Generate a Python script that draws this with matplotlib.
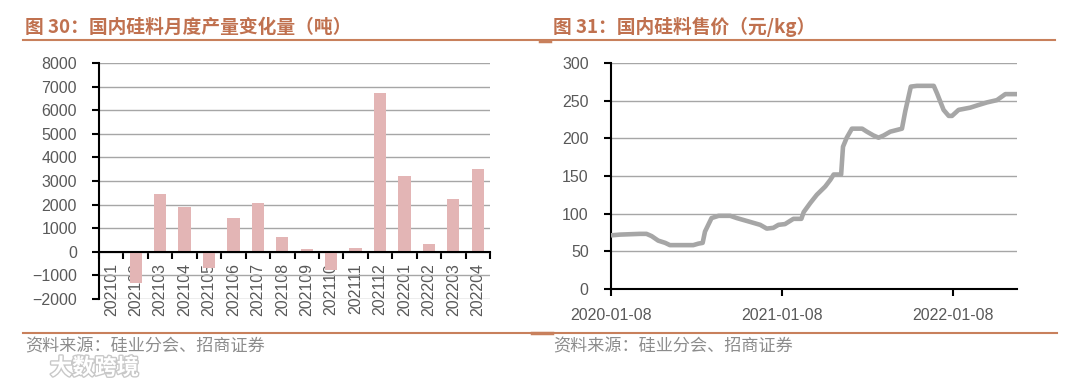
import matplotlib
matplotlib.use("Agg")
import matplotlib.pyplot as plt
import matplotlib.dates as mdates
import matplotlib.patheffects as pe
from matplotlib.lines import Line2D
import numpy as np
import pandas as pd

plt.rcParams['font.family'] = ['Liberation Sans', 'Noto Sans CJK SC', 'DejaVu Sans']

# ---- data: left chart (monthly change, tonnes) ----
months = ['202101', '202102', '202103', '202104', '202105', '202106', '202107', '202108',
          '202109', '202110', '202111', '202112', '202201', '202202', '202203', '202204']
change = [0, -1330, 2450, 1900, -700, 1420, 2050, 640,
          110, -750, 155, 6720, 3220, 310, 2230, 3520]
left_yticks = list(range(-2000, 8001, 1000))

# ---- data: right chart (price, yuan/kg) ----
price_dates = ['2020-01-08', '2020-01-27', '2020-03-10', '2020-03-24', '2020-04-04', '2020-04-18',
               '2020-05-03', '2020-05-13', '2020-07-02', '2020-07-13', '2020-07-22', '2020-07-27',
               '2020-08-10', '2020-08-25', '2020-09-19', '2020-10-03', '2020-10-31', '2020-11-22',
               '2020-12-06', '2020-12-20', '2020-12-31', '2021-01-14', '2021-02-01', '2021-02-18',
               '2021-02-23', '2021-03-09', '2021-03-23', '2021-04-10', '2021-04-21', '2021-04-28',
               '2021-05-14', '2021-05-18', '2021-05-26', '2021-06-06', '2021-06-28', '2021-07-08',
               '2021-07-22', '2021-08-02', '2021-08-13', '2021-08-27', '2021-09-21', '2021-09-28',
               '2021-10-10', '2021-10-23', '2021-11-28', '2021-12-05', '2021-12-19', '2021-12-30',
               '2022-01-06', '2022-01-20', '2022-02-14', '2022-03-01', '2022-03-22', '2022-04-12',
               '2022-04-30', '2022-05-25']
price_values = [71, 72, 73, 73, 70, 64,
                61, 58, 58, 60, 61, 76,
                94, 97, 97, 94, 89, 85,
                80, 81, 85, 86, 93, 93,
                102, 114, 125, 136, 145, 152,
                152, 189, 201, 213, 213, 209,
                204, 201, 204, 209, 213, 236,
                269, 270, 270, 260, 238, 230,
                230, 238, 241, 244, 248, 251,
                259, 259]
right_xticks = ['2020-01-08', '2021-01-08', '2022-01-08']
right_yticks = list(range(0, 301, 50))

titles = ['图 30：国内硅料月度产量变化量（吨）', '图 31：国内硅料售价（元/kg）']
source = '资料来源：硅业分会、招商证券'

TITLE_C = '#C0714F'
LINE_C = '#C8805C'
TICK_C = '#595959'
GRID_C = '#A6A6A6'
CJK = ['Noto Sans CJK SC', 'DejaVu Sans']

fig = plt.figure(figsize=(10.8, 3.83), dpi=100)

# ---------------- left chart ----------------
ax1 = fig.add_axes([0.0917, 0.2193, 0.362, 0.6162])
x = np.arange(len(months))
ax1.bar(x, change, width=0.5, color='#E3B5B5', zorder=3)
ax1.set_xlim(-0.5, len(months) - 0.5)
ax1.set_ylim(-2000, 8000)
ax1.set_yticks(left_yticks)
ax1.yaxis.grid(True, color=GRID_C, lw=1)
ax1.set_axisbelow(True)
for s in ['top', 'right']:
    ax1.spines[s].set_visible(False)
ax1.spines['bottom'].set_position(('data', 0))
ax1.spines['bottom'].set_linewidth(1.5)
ax1.spines['left'].set_linewidth(1.5)
ax1.spines['bottom'].set_zorder(4)
ax1.set_xticks(x)
ax1.set_xticklabels(months, rotation=90, va='top', ha='center')
ax1.set_xticks(np.arange(-0.5, len(months), 1), minor=True)
ax1.tick_params(axis='x', which='major', length=0, pad=8, labelsize=11.5, labelcolor=TICK_C)
ax1.tick_params(axis='x', which='minor', length=5, width=1.5, direction='out')
ax1.tick_params(axis='y', length=5, width=1.5, pad=11, labelsize=11.5, labelcolor=TICK_C)

# ---------------- right chart ----------------
ax2 = fig.add_axes([0.5657, 0.2462, 0.376, 0.5885])
ax2.plot(pd.to_datetime(price_dates), price_values, color='#A6A6A6', lw=3.3,
         solid_joinstyle='round', solid_capstyle='butt', zorder=3)
ax2.set_xlim(pd.Timestamp('2020-01-08'), pd.Timestamp('2022-05-25'))
ax2.set_ylim(0, 300)
ax2.set_yticks(right_yticks)
ax2.yaxis.grid(True, color=GRID_C, lw=1)
ax2.set_axisbelow(True)
for s in ['top', 'right']:
    ax2.spines[s].set_visible(False)
ax2.spines['bottom'].set_linewidth(1.5)
ax2.spines['left'].set_linewidth(1.5)
ax2.set_xticks(pd.to_datetime(right_xticks))
ax2.xaxis.set_major_formatter(mdates.DateFormatter('%Y-%m-%d'))
ax2.tick_params(axis='x', length=5, width=1.5, pad=9, labelsize=11.5, labelcolor=TICK_C)
ax2.tick_params(axis='y', length=5, width=1.5, pad=11, labelsize=11.5, labelcolor=TICK_C)

# ---------------- titles, rules, sources ----------------
H = 383.0
W = 1080.0
def fx(px):
    return px / W
def fy(py):
    return 1 - py / H

fig.text(fx(25), fy(27), titles[0], color=TITLE_C, fontsize=13.5, fontweight='bold',
         family=CJK, va='center', ha='left')
fig.text(fx(553), fy(27), titles[1], color=TITLE_C, fontsize=13.5, fontweight='bold',
         family=CJK, va='center', ha='left')

fig.add_artist(Line2D([fx(23), fx(1055)], [fy(40), fy(40)], color=LINE_C, lw=1.5))
fig.add_artist(Line2D([fx(540), fx(550)], [fy(40.5), fy(40.5)], color=LINE_C, lw=2.5))
fig.add_artist(Line2D([fx(23), fx(1057)], [fy(333), fy(333)], color=LINE_C, lw=1.5))
fig.add_artist(Line2D([fx(532), fx(552)], [fy(332.5), fy(332.5)], color=LINE_C, lw=2.5))

fig.text(fx(25), fy(346), source, color='#8C8C8C', fontsize=12.3,
         family=CJK, va='center', ha='left')
fig.text(fx(553), fy(346), source, color='#8C8C8C', fontsize=12.3,
         family=CJK, va='center', ha='left')

# watermark
fig.text(fx(50), fy(368), '大数跨境', color='white', fontsize=16, fontweight='bold',
         family=CJK, va='center', ha='left',
         path_effects=[pe.withStroke(linewidth=2, foreground='#C8C8C8')])

fig.savefig('out.png', dpi=100)
